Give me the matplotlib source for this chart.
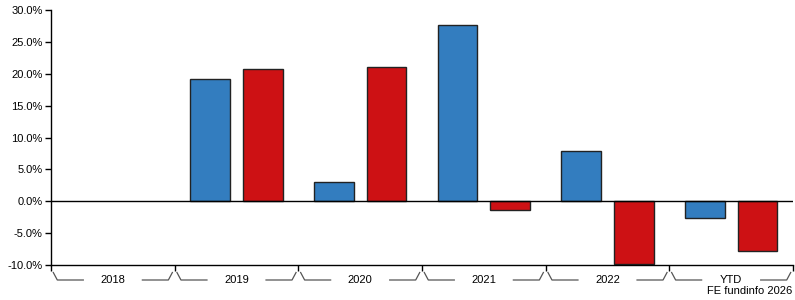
import matplotlib.pyplot as plt
import numpy as np

plt.rcParams["font.family"] = ["Liberation Sans", "DejaVu Sans"]

periods = ["2018", "2019", "2020", "2021", "2022", "YTD"]
fund_returns = [np.nan, 19.2, 3.0, 27.6, 7.9, -2.6]
sector_returns = [np.nan, 20.8, 21.0, -1.4, -9.8, -7.8]
y_ticks = [-10, -5, 0, 5, 10, 15, 20, 25, 30]

blue = "#337dbf"
red = "#cd1114"

fig = plt.figure(figsize=(7.95, 3.0), dpi=100)
ax = fig.add_axes([51 / 795, 35 / 300, 742 / 795, 255 / 300])

x = np.arange(len(periods)) + 0.5
width = 0.32
offset = 0.212
ax.bar(x - offset, fund_returns, width, color=blue, edgecolor="#222222", linewidth=1, zorder=2)
ax.bar(x + offset, sector_returns, width, color=red, edgecolor="#222222", linewidth=1, zorder=2)
ax.axhline(0, color="black", linewidth=1, zorder=3)

ax.set_xlim(0, len(periods))
ax.set_ylim(-10, 30)
ax.set_yticks(y_ticks)
ax.set_yticklabels([f"{v:.1f}%" for v in y_ticks], fontsize=8)
ax.set_xticks(np.arange(len(periods) + 1))
ax.set_xticklabels([])
ax.tick_params(axis="y", length=4, width=1, pad=2)
ax.tick_params(axis="x", length=4, width=1)
for s in ["top", "right"]:
    ax.spines[s].set_visible(False)
ax.spines["left"].set_linewidth(1)
ax.spines["bottom"].set_linewidth(1)

# bracket-style group labels below the axis
group_px = 742 / len(periods)
trans = ax.get_xaxis_transform()
ax_h = 255
y_top = -7.5 / ax_h
y_low = -15 / ax_h
for i, name in enumerate(periods):
    l = i + 2.3 / group_px
    r = i + 1 - 2.3 / group_px
    d = 4 / group_px
    h = 30 / group_px
    ax.plot([l, l + d, l + h], [y_top, y_low, y_low], color="#555555", lw=0.9,
            transform=trans, clip_on=False)
    ax.plot([r - h, r - d, r], [y_low, y_low, y_top], color="#555555", lw=0.9,
            transform=trans, clip_on=False)
    ax.text(i + 0.5, y_low, name, transform=trans, ha="center", va="center", fontsize=8)

fig.text(792 / 795, 1 - 291 / 300, "FE fundinfo 2026", ha="right", va="center", fontsize=8)

fig.savefig("out.png", dpi=100)
